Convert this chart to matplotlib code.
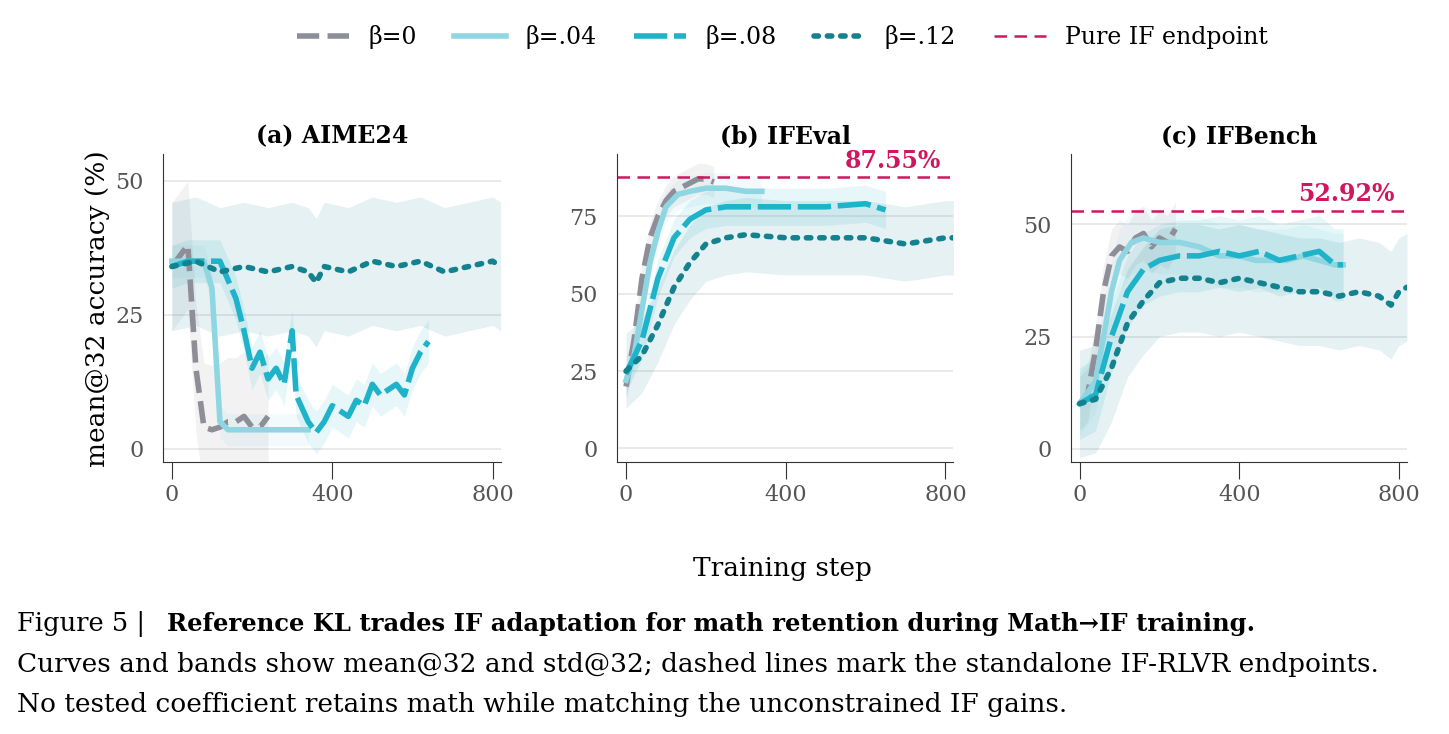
import matplotlib
matplotlib.use("Agg")
import matplotlib.pyplot as plt
import numpy as np

plt.rcParams['font.family'] = ['DejaVu Serif']

labels = ["β=0", "β=.04", "β=.08", "β=.12"]
colors = ["#8e8e99", "#8fd6e3", "#1fb3c9", "#14818f"]
pink = "#d0165e"

# panel a (AIME24)
a0_x = [0,20,40,60,80,100,120,140,160,180,200,220,240]
a0_y = [34,36,38,15,4,3.5,4,5,5,6,4,4,6]
a1_x = [0,40,80,100,120,140,180,220,260,300,340]
a1_y = [35,35,35,30,5,3.5,3.5,3.5,3.5,3.5,3.5]
a2_x = [0,40,80,120,160,180,200,220,240,260,280,300,310,340,360,380,400,420,440,460,480,500,520,540,560,580,600,620,640]
a2_y = [34,35,35,35,28,22,15,18,13,15,12,22,10,5,3,5,8,7,6,9,8,12,10,11,12,10,15,18,20]
a3_x = [0,60,120,180,240,300,340,360,380,440,500,560,620,680,740,800,820]
a3_y = [34,35,33,34,33,34,33,31,34,33,35,34,35,33,34,35,34]
a_std = [12,3,4,12]

# panel b (IFEval)
b0_x = [0,20,40,60,80,100,120,150,180,200,220]
b0_y = [20,35,55,68,75,80,83,85,87,87,86]
b1_x = [0,20,40,60,80,100,130,160,200,250,300,340]
b1_y = [22,30,45,60,70,78,82,83,84,84,83,83]
b2_x = [0,40,80,120,160,200,250,300,400,500,600,650]
b2_y = [24,35,55,68,74,77,78,78,78,78,79,77]
b3_x = [0,40,80,120,160,200,250,300,400,500,600,700,800,820]
b3_y = [25,30,40,52,60,66,68,69,68,68,68,66,68,68]
b_std = [5,5,6,12]
b_end = 87.55

# panel c (IFBench)
c0_x = [0,20,40,60,80,100,120,140,160,180,200,220,240]
c0_y = [10,12,22,35,43,45,44,47,48,45,47,46,49]
c1_x = [0,40,60,80,100,130,160,200,250,300,350,400,440,480,520,560,600,640,660]
c1_y = [10,15,25,35,42,46,47,46,46,45,43,43,42,42,42,43,42,41,41]
c2_x = [0,40,80,120,160,200,250,300,350,400,450,500,550,600,640,660]
c2_y = [10,12,25,35,40,42,43,43,44,43,44,42,43,44,41,41]
c3_x = [0,40,80,120,160,200,250,300,350,400,450,500,550,600,650,700,750,780,800,820]
c3_y = [10,11,18,28,33,37,38,38,37,38,37,36,35,35,34,35,34,32,35,36]
c_std = [6,7,8,12]
c_end = 52.92

styles = [dict(ls=(0,(4,1.5))), dict(ls='-'), dict(ls=(0,(6,1.2))), dict(ls=(0,(0.8,1.6)), dash_capstyle='round')]

fig = plt.figure(figsize=(14.49,7.34), dpi=100)
boxes = [(0.1125,0.37,0.233,0.42),(0.426,0.37,0.232,0.42),(0.739,0.37,0.232,0.42)]
panels = [
    ("(a) AIME24", [(a0_x,a0_y),(a1_x,a1_y),(a2_x,a2_y),(a3_x,a3_y)], a_std, None, (-2.6,55), [0,25,50]),
    ("(b) IFEval", [(b0_x,b0_y),(b1_x,b1_y),(b2_x,b2_y),(b3_x,b3_y)], b_std, b_end, (-4.5,95), [0,25,50,75]),
    ("(c) IFBench", [(c0_x,c0_y),(c1_x,c1_y),(c2_x,c2_y),(c3_x,c3_y)], c_std, c_end, (-3.1,65.7), [0,25,50]),
]
handles = []
for i,(title, series, stds, end, ylim, yt) in enumerate(panels):
    ax = fig.add_axes(boxes[i])
    for k,((x,y),s) in enumerate(zip(series,stds)):
        x = np.array(x); y = np.array(y)
        ax.fill_between(x, y-s, y+s, color=colors[k], alpha=0.11, lw=0)
    for k,(x,y) in enumerate(series):
        h, = ax.plot(x, y, color=colors[k], lw=4, label=labels[k], **styles[k])
        if i == 0: handles.append(h)
    if end is not None:
        ax.axhline(end, color=pink, lw=1.8, ls=(0,(5,3)))
        ax.text(790, end+1.5 if i==1 else end+1.2, f"{end:.2f}%", color=pink, ha='right', va='bottom',
                fontsize=17, fontweight='bold')
    ax.set_xlim(-22, 820)
    ax.set_ylim(*ylim)
    ax.set_xticks([0,400,800]); ax.set_yticks(yt)
    ax.yaxis.grid(True, color='#e6e6e6', lw=1.2); ax.set_axisbelow(True)
    for sp in ['top','right']: ax.spines[sp].set_visible(False)
    for sp in ['left','bottom']: ax.spines[sp].set_color('#333333')
    ax.tick_params(labelsize=16, labelcolor='#555555', length=12, color='#333333')
    ax.tick_params(axis='y', length=0, pad=14)
    ax.set_title(title, fontsize=17, fontweight='bold', pad=8)
    if i == 0:
        ax.set_ylabel("mean@32 accuracy (%)", fontsize=19)
pe, = plt.plot([], [], color=pink, lw=1.8, ls=(0,(5,3)), label="Pure IF endpoint")
handles.append(pe)
fig.legend(handles=handles, loc='upper center', bbox_to_anchor=(0.54,0.995), ncol=5, frameon=False,
           fontsize=17, handlelength=2.2, columnspacing=1.6)
fig.text(0.54, 0.215, "Training step", ha='center', fontsize=19)
fig.text(0.012, 0.14, "Figure 5 | ", fontsize=18.5)
fig.text(0.115, 0.14, "Reference KL trades IF adaptation for math retention during Math→IF training.",
         fontsize=17.5, fontweight='bold')
fig.text(0.012, 0.085, "Curves and bands show mean@32 and std@32; dashed lines mark the standalone IF-RLVR endpoints.", fontsize=19)
fig.text(0.012, 0.03, "No tested coefficient retains math while matching the unconstrained IF gains.", fontsize=19)
fig.savefig("out.png", dpi=100)
